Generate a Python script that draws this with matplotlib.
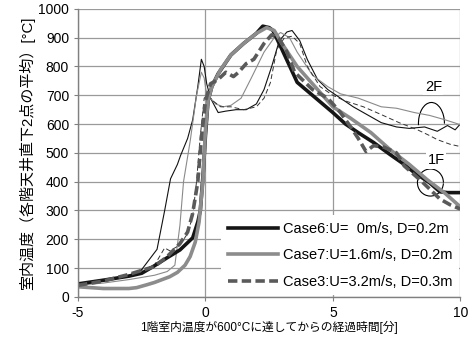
import matplotlib
matplotlib.use("Agg")
import matplotlib.pyplot as plt
from matplotlib.patches import Arc

plt.rcParams['font.family'] = ['Liberation Sans', 'Noto Sans CJK JP']
plt.rcParams['axes.unicode_minus'] = False

# 1F (thick lines)
x_c6_1f = [-5, -4, -3, -2.5, -2, -1.5, -1, -0.5, -0.3, -0.2, -0.08, 0, 0.1, 0.25, 0.5, 1.0, 1.5, 2.0, 2.25, 2.5, 2.65, 3.0, 3.6, 4.2, 5.0, 5.5, 6.0, 6.6, 7.25, 7.8, 8.15, 8.8, 9.2, 9.5, 10]
t_c6_1f = [45, 58, 72, 82, 108, 136, 163, 205, 260, 300, 440, 560, 680, 730, 775, 840, 880, 915, 940, 935, 925, 860, 745, 700, 640, 600, 570, 536, 494, 460, 435, 396, 365, 362, 362]

x_c7_1f = [-5, -4.5, -4, -3, -2.7, -2.3, -2, -1.7, -1.4, -1.1, -0.8, -0.6, -0.4, -0.25, -0.1, 0, 0.1, 0.25, 0.6, 1.0, 1.5, 2.0, 2.4, 2.7, 3.0, 3.6, 4.4, 5.0, 5.7, 6.5, 7.25, 8.0, 8.7, 9.4, 10]
t_c7_1f = [35, 32, 29, 29, 32, 42, 50, 60, 70, 85, 110, 140, 190, 260, 400, 580, 680, 730, 790, 840, 880, 915, 935, 925, 880, 800, 720, 660, 620, 570, 511, 460, 407, 360, 313]

x_c3_1f = [-5, -4, -3, -2.5, -2, -1.5, -1, -0.7, -0.5, -0.3, -0.15, 0, 0.2, 0.5, 0.8, 1.1, 1.3, 1.6, 1.9, 2.3, 2.6, 2.9, 3.2, 3.5, 4.2, 4.8, 5.3, 5.7, 6.0, 6.3, 6.6, 7.0, 7.5, 7.8, 8.5, 9.2, 9.6, 10]
t_c3_1f = [40, 55, 78, 92, 105, 140, 185, 225, 290, 400, 560, 680, 740, 755, 780, 765, 780, 810, 825, 880, 910, 895, 850, 780, 720, 690, 640, 590, 550, 505, 525, 520, 500, 455, 400, 340, 320, 305]

# 2F (thin lines)
x_c6_2f = [-5, -4, -3, -2.5, -1.9, -1.6, -1.37, -1.1, -0.98, -0.7, -0.5, -0.3, -0.16, -0.05, 0.05, 0.2, 0.5, 0.8, 1.2, 1.6, 2.0, 2.3, 2.6, 2.9, 3.2, 3.4, 3.7, 4.0, 4.4, 4.8, 5.3, 5.8, 6.4, 6.9, 7.5, 8.0, 8.6, 9.1, 9.5, 9.8, 10]
t_c6_2f = [45, 55, 75, 95, 165, 300, 410, 460, 490, 550, 615, 730, 825, 800, 740, 690, 640, 645, 650, 650, 670, 720, 800, 890, 920, 925, 890, 824, 755, 720, 690, 660, 630, 605, 590, 585, 590, 575, 595, 580, 600]

x_c7_2f = [-5, -4, -3, -2, -1.5, -1.2, -1.0, -0.86, -0.6, -0.35, -0.16, -0.05, 0.05, 0.2, 0.4, 0.7, 1.0, 1.4, 1.8, 2.3, 2.7, 2.95, 3.3, 3.6, 4.2, 4.8, 5.3, 6.0, 6.9, 7.5, 8.2, 8.8, 9.4, 10]
t_c7_2f = [40, 48, 60, 75, 88, 110, 250, 400, 540, 700, 780, 760, 700, 690, 670, 660, 665, 690, 760, 850, 900, 918, 900, 850, 770, 730, 705, 690, 660, 655, 640, 630, 615, 598]

x_c3_2f = [-5, -4, -3, -2, -1.6, -1.4, -1.0, -0.7, -0.5, -0.35, -0.2, -0.05, 0.1, 0.3, 0.6, 1.0, 1.5, 2.0, 2.3, 2.55, 2.8, 3.1, 3.4, 3.7, 4.0, 4.5, 5.0, 5.5, 6.2, 6.9, 7.6, 8.3, 8.8, 9.1, 9.6, 10]
t_c3_2f = [42, 55, 75, 110, 170, 160, 180, 220, 280, 400, 560, 690, 700, 680, 660, 660, 650, 660, 690, 744, 859, 900, 905, 880, 800, 730, 700, 680, 660, 633, 605, 581, 560, 546, 530, 522]

labels = ["Case6:U=  0m/s, D=0.2m", "Case7:U=1.6m/s, D=0.2m", "Case3:U=3.2m/s, D=0.3m"]

fig = plt.figure(figsize=(4.73, 3.42), dpi=100)
ax = fig.add_axes([0.165, 0.132, 0.808, 0.842])

# thin 2F lines
ax.plot(x_c6_2f, t_c6_2f, color='#111111', lw=0.8)
ax.plot(x_c7_2f, t_c7_2f, color='#8a8a8a', lw=0.8)
ax.plot(x_c3_2f, t_c3_2f, color='#333333', lw=0.7, ls=(0, (5, 3)))

# thick 1F lines
l1, = ax.plot(x_c6_1f, t_c6_1f, color='#151515', lw=2.6)
l2, = ax.plot(x_c7_1f, t_c7_1f, color='#8c8c8c', lw=2.6)
l3, = ax.plot(x_c3_1f, t_c3_1f, color='#5a5a5a', lw=2.6, ls=(0, (2.6, 1.2)))

# 2F / 1F markers
ax.add_patch(Arc((8.87, 602), 1.02, 146, theta1=-40, theta2=265, color='black', lw=0.8))
ax.add_patch(Arc((8.83, 397), 1.02, 94, theta1=-30, theta2=280, color='black', lw=0.8))
ax.text(8.95, 730, "2F", fontsize=10.5, ha='center', va='center',
        bbox=dict(facecolor='white', edgecolor='none', pad=1))
ax.text(9.05, 475, "1F", fontsize=10.5, ha='center', va='center',
        bbox=dict(facecolor='white', edgecolor='none', pad=1))

ax.set_xlim(-5, 10)
ax.set_ylim(0, 1000)
ax.set_xticks([-5, 0, 5, 10])
ax.set_yticks(range(0, 1001, 100))
ax.grid(True, color='#9a9a9a', lw=0.9)
ax.set_axisbelow(True)
for s in ['top', 'right']:
    ax.spines[s].set_visible(False)
for s in ['left', 'bottom']:
    ax.spines[s].set_color('#808080')
    ax.spines[s].set_linewidth(1.0)
ax.tick_params(colors='#808080', length=3, labelsize=10, labelcolor='black')

ax.set_xlabel("1階室内温度が600°Cに達してからの経過時間[分]", fontsize=8.5, labelpad=1)
ax.set_ylabel("室内温度（各階天井直下2点の平均）[°C]", fontsize=10.8, labelpad=2)

leg = ax.legend([l1, l2, l3], labels, loc='lower right', fontsize=10.5,
                frameon=True, handlelength=3.4, borderaxespad=0.1,
                labelspacing=0.85, handletextpad=0.35, borderpad=0.45)
leg.get_frame().set_edgecolor('none')
leg.get_frame().set_facecolor('white')
leg.get_frame().set_alpha(1)
leg.get_frame().set_boxstyle('square', pad=0)

fig.savefig("out.png", dpi=100)
